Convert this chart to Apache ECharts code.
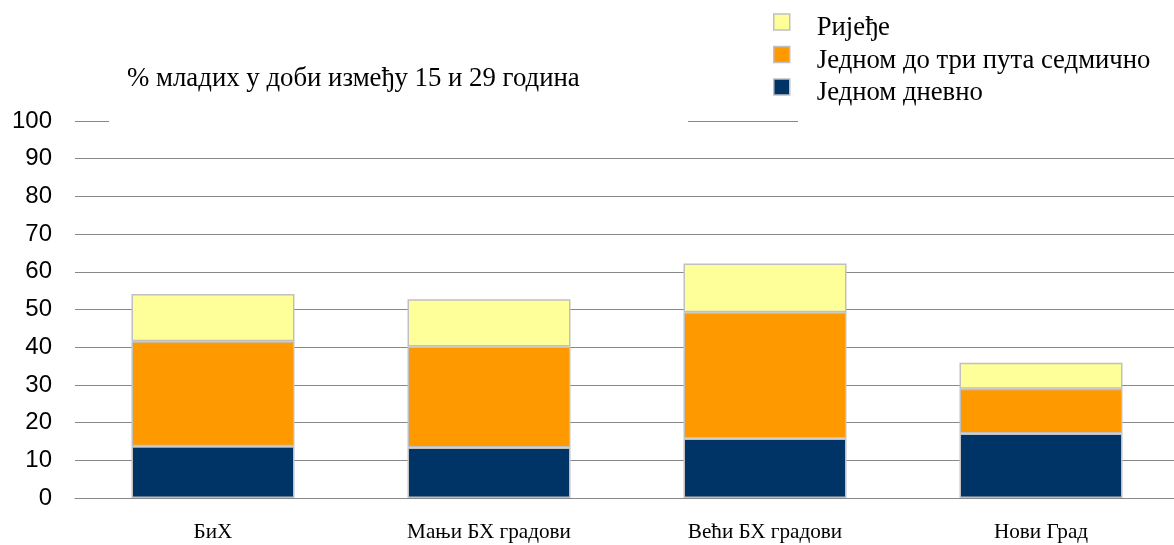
<!DOCTYPE html>
<html>
<head>
<meta charset="utf-8">
<script src="https://cdn.jsdelivr.net/npm/echarts@6/dist/echarts.min.js"></script>
<style>html,body{margin:0;padding:0;background:#fff}#c{width:1174px;height:545px}</style>
</head>
<body>
<div id="c"></div>
<script>
var categories = ['БиХ', 'Мањи БХ градови', 'Већи БХ градови', 'Нови Град'];
var daily = [13.7, 13.4, 15.8, 17.1];
var weekly = [27.9, 26.8, 33.5, 11.9];
var rarely = [12.5, 12.5, 12.9, 6.9];
var yTicks = [0, 10, 20, 30, 40, 50, 60, 70, 80, 90, 100];
var names = ['Једном дневно', 'Једном до три пута седмично', 'Ријеђе'];
var colors = ['#003366', '#ff9900', '#ffff99'];
var title = '% младих у доби између 15 и 29 година';

var serif = '"Liberation Serif", "DejaVu Serif", serif';
var sans = '"Liberation Sans", Arial, sans-serif';
var chart = echarts.init(document.getElementById('c'), null, {renderer: 'canvas'});
function mk(i, data) {
  return {
    name: names[i], type: 'bar', stack: 'a', data: data,
    barWidth: 163,
    itemStyle: {color: colors[i], borderColor: '#c0c0c0', borderWidth: 1.5},
    emphasis: {disabled: true}
  };
}
chart.setOption({
  animation: false,
  title: {text: title, left: 122, top: 60, textStyle: {fontFamily: serif, fontSize: 26.8, fontWeight: 'normal', color: '#000'}},
  legend: {
    orient: 'vertical', left: 768, top: 1, itemWidth: 16, itemHeight: 16, itemGap: -3,
    data: ['Ријеђе', 'Једном до три пута седмично', 'Једном дневно'],
    icon: 'rect',
    itemStyle: {borderColor: '#c0c0c0', borderWidth: 1.5},
    formatter: '{gap| }\n{t|{name}}',
    textStyle: {
      fontFamily: serif, fontSize: 26.7, color: '#000', padding: [0, 0, 0, 22],
      rich: {
        gap: {fontSize: 2, lineHeight: 12, height: 12},
        t: {fontFamily: serif, fontSize: 26.7, color: '#000', lineHeight: 20}
      }
    },
    selectedMode: false
  },
  grid: {left: 75, width: 1104, top: 121, bottom: 47, containLabel: false, outerBoundsMode: 'none'},
  xAxis: {
    type: 'category', data: categories,
    axisLine: {show: true, lineStyle: {color: '#888', width: 1}},
    axisTick: {show: false},
    axisLabel: {fontFamily: serif, fontSize: 21.2, color: '#000', margin: 24}
  },
  yAxis: {
    type: 'value', min: yTicks[0], max: yTicks[yTicks.length - 1], interval: 10,
    axisLine: {show: false}, axisTick: {show: false},
    splitLine: {lineStyle: {color: '#888', width: 1}},
    axisLabel: {fontFamily: sans, fontSize: 24, color: '#000', margin: 23}
  },
  graphic: [
    {type: 'rect', shape: {x: 109, y: 115, width: 579, height: 12}, style: {fill: '#fff'}, z: 100},
    {type: 'rect', shape: {x: 798, y: 115, width: 400, height: 12}, style: {fill: '#fff'}, z: 100}
  ],
  series: [mk(0, daily), mk(1, weekly), mk(2, rarely)]
});
</script>
</body>
</html>
